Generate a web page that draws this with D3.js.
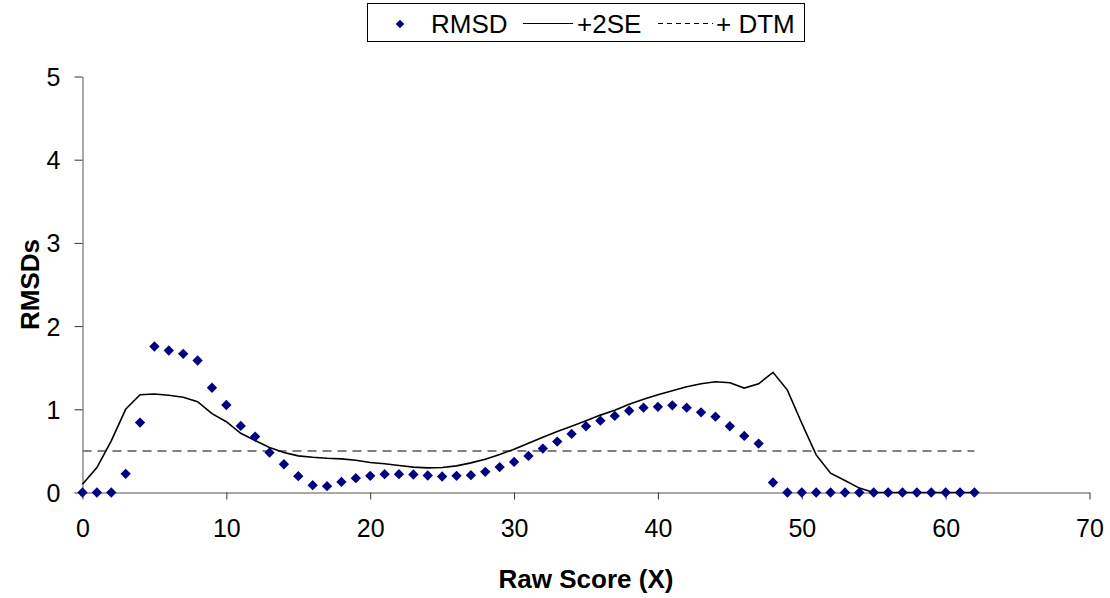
<!DOCTYPE html>
<html><head><meta charset="utf-8">
<script src="https://cdn.jsdelivr.net/npm/d3@7"></script>
<style>body{margin:0;background:#fff;} text{font-family:"Liberation Sans",Arial,sans-serif;}</style>
</head><body><svg id="c" width="1110" height="598"></svg>
<script>
const rawScores = d3.range(0, 63);
const rmsd = [0,0,0,0.224,0.84,1.755,1.707,1.667,1.587,1.259,1.052,0.80,0.672,0.48,0.34,0.196,0.088,0.076,0.127,0.172,0.20,0.22,0.22,0.216,0.204,0.192,0.20,0.208,0.248,0.305,0.368,0.44,0.528,0.612,0.704,0.796,0.863,0.92,0.983,1.02,1.03,1.048,1.02,0.964,0.911,0.796,0.68,0.588,0.12,0,0,0,0,0,0,0,0,0,0,0,0,0,0];
const plus2SE = [0.10,0.30,0.62,1.00,1.175,1.183,1.168,1.144,1.091,0.947,0.851,0.712,0.624,0.54,0.48,0.44,0.424,0.412,0.404,0.388,0.36,0.345,0.325,0.305,0.296,0.30,0.32,0.356,0.40,0.456,0.52,0.592,0.664,0.732,0.796,0.863,0.93,0.99,1.06,1.12,1.175,1.223,1.271,1.307,1.331,1.319,1.255,1.307,1.444,1.231,0.832,0.452,0.232,0.144,0.053,0,0,0,0,0,0,0,0];
const dtm = rawScores.map(() => 0.5);
const xTicks = [0,10,20,30,40,50,60,70];
const yTicks = [0,1,2,3,4,5];
const legendLabels = ["RMSD","+2SE","+ DTM"];

const svg = d3.select("#c");
const L = 82.5, R = 1089.5, T = 76.5, B = 492.5;
const x = d3.scaleLinear().domain([0,70]).range([L,R]);
const y = d3.scaleLinear().domain([0,5]).range([B,T]);

const xAxis = svg.append("g").attr("transform",`translate(0,${B})`)
  .call(d3.axisBottom(x).tickValues(xTicks).tickFormat(d3.format("d")).tickSize(7).tickPadding(20).tickSizeOuter(0));
const yAxis = svg.append("g").attr("transform",`translate(${L},0)`)
  .call(d3.axisLeft(y).tickValues(yTicks).tickFormat(d3.format("d")).tickSize(8).tickPadding(14).tickSizeOuter(0));
[xAxis,yAxis].forEach(a=>{
  a.select(".domain").attr("stroke","#555");
  a.selectAll(".tick line").attr("stroke","#333");
  a.selectAll(".tick text").attr("font-size",25).attr("fill","#000").attr("font-family","Liberation Sans, Arial, sans-serif");
});
yAxis.selectAll(".tick text").attr("dy","0.36em");

svg.append("path").datum(rawScores)
  .attr("d", d3.line().x(d=>x(d)).y((d,i)=>y(dtm[i])))
  .attr("fill","none").attr("stroke","#808080").attr("stroke-width",2).attr("stroke-dasharray","9,6");
svg.append("path").datum(rawScores)
  .attr("d", d3.line().x(d=>x(d)).y((d,i)=>y(plus2SE[i])))
  .attr("fill","none").attr("stroke","#000").attr("stroke-width",1.6);
const sym = d3.symbol().type(d3.symbolDiamond2).size(68);
svg.append("g").selectAll("path").data(rawScores).join("path")
  .attr("transform",(d,i)=>`translate(${x(d)},${y(rmsd[i])})`)
  .attr("d", sym).attr("fill","#000080");

svg.append("text").attr("x",(L+R)/2).attr("y",588).attr("text-anchor","middle")
  .attr("font-weight","bold").attr("font-size",26).text("Raw Score (X)");
const yt = svg.append("g").attr("transform",`translate(39,${(T+B)/2})`);
yt.append("text").attr("transform","rotate(-90)").attr("text-anchor","middle")
  .attr("font-weight","bold").attr("font-size",26).text("RMSDs");

const lg = svg.append("g");
lg.append("rect").attr("x",367.5).attr("y",3.5).attr("width",437).attr("height",38)
  .attr("fill","#fff").attr("stroke","#000");
lg.append("path").attr("transform","translate(400,24)").attr("d", d3.symbol().type(d3.symbolDiamond2).size(48)).attr("fill","#000080");
lg.append("text").attr("x",431).attr("y",33).attr("font-size",26).text(legendLabels[0]);
lg.append("line").attr("x1",523).attr("x2",573).attr("y1",23.5).attr("y2",23.5).attr("stroke","#000").attr("stroke-width",1.2);
lg.append("text").attr("x",577).attr("y",33).attr("font-size",26).text(legendLabels[1]);
lg.append("line").attr("x1",658).attr("x2",713).attr("y1",23.5).attr("y2",23.5).attr("stroke","#000").attr("stroke-width",1).attr("stroke-dasharray","5,4");
lg.append("text").attr("x",716).attr("y",33).attr("font-size",26).text(legendLabels[2]);
</script></body></html>
